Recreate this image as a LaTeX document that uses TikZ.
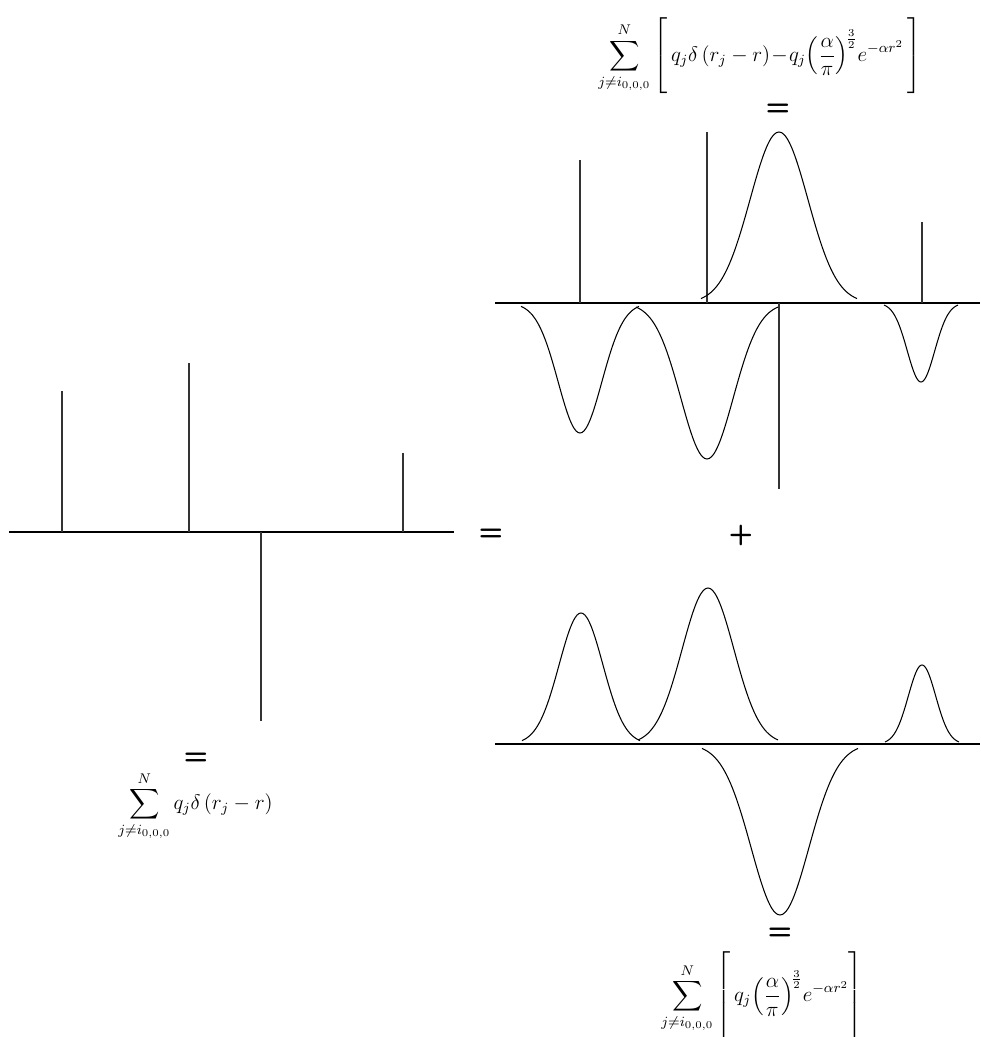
\documentclass[tikz,border=0pt]{standalone}
\usepackage{amsmath}
\newcommand\gaussbump[4]{%
  \draw[curve] plot[domain=-#4:#4, samples=61, smooth]
    ({#1+(\x)},{#2-(#3)*exp(-((\x)^2)/(2*((#4)/2.7)^2))});}
\begin{document}
\begin{tikzpicture}[x=0.02cm,y=-0.02cm,
  axisline/.style={line width=0.7pt},
  spikeline/.style={line width=0.8pt, black!80},
  curve/.style={line width=0.6pt},
  sym/.style={font=\fontsize{16}{16}\selectfont\sffamily\bfseries, inner sep=0pt},
  formula/.style={font=\fontsize{12}{14}\selectfont, inner sep=0pt, anchor=west}]
\useasboundingbox (0,0) rectangle (980,1037);

% ---------- left panel ----------
\coordinate (la1) at (9,532);
\coordinate (la2) at (454,532);
\draw[axisline] (la1) -- (la2);
\draw[spikeline] (62,532) -- (62,391);
\draw[spikeline] (189,532) -- (189,363);
\draw[spikeline] (403,532) -- (403,453);
\draw[spikeline] (261,532) -- (261,721);

\node[sym] (eqL) at (196,759) {=};
\node[formula] (fL) at (118,806)
  {$\displaystyle\sum_{j\neq i_{0,0,0}}^{N} q_j\delta\left(r_j - r\right)$};

% ---------- upper right panel ----------
\coordinate (ua1) at (495,303);
\coordinate (ua2) at (980,303);
\draw[axisline] (ua1) -- (ua2);
\draw[spikeline] (580,303) -- (580,160);
\draw[spikeline] (707,303) -- (707,132);
\draw[spikeline] (922,303) -- (922,222);
\draw[spikeline] (779,303) -- (779,489);
\gaussbump{779}{303}{171}{78}
\gaussbump{580}{303}{-130}{59}
\gaussbump{707}{303}{-156}{71}
\gaussbump{921}{303}{-79}{37}

\node[sym] (eqT) at (778,110) {=};
\node[formula, font=\fontsize{11.5}{14}\selectfont] (fT) at (598,56)
  {$\displaystyle\sum_{j\neq i_{0,0,0}}^{N}\left[\rule[-18pt]{0pt}{37pt}\, q_j\delta\left(r_j - r\right)\!-\!q_j\!\left(\frac{\alpha}{\pi}\right)^{\!\frac{3}{2}}\! e^{-\alpha r^2}\hspace{2pt}\right]$};

% ---------- middle signs ----------
\node[sym] (eqM) at (491,535) {=};
\node[sym] (plus) at (741,535) {+};

% ---------- lower right panel ----------
\coordinate (ba1) at (495,744);
\coordinate (ba2) at (980,744);
\draw[axisline] (ba1) -- (ba2);
\gaussbump{581}{744}{131}{59}
\gaussbump{708}{744}{156}{70}
\gaussbump{922}{744}{79}{37}
\gaussbump{780}{744}{-171}{78}

\node[sym] (eqB) at (780,934) {=};
\node[formula] (fB) at (661,998)
  {$\displaystyle\sum_{j\neq i_{0,0,0}}^{N}\left[\rule[-24pt]{0pt}{48pt}\, q_j\!\left(\frac{\alpha}{\pi}\right)^{\!\frac{3}{2}}\! e^{-\alpha r^2}\right]$};
\end{tikzpicture}
\end{document}
